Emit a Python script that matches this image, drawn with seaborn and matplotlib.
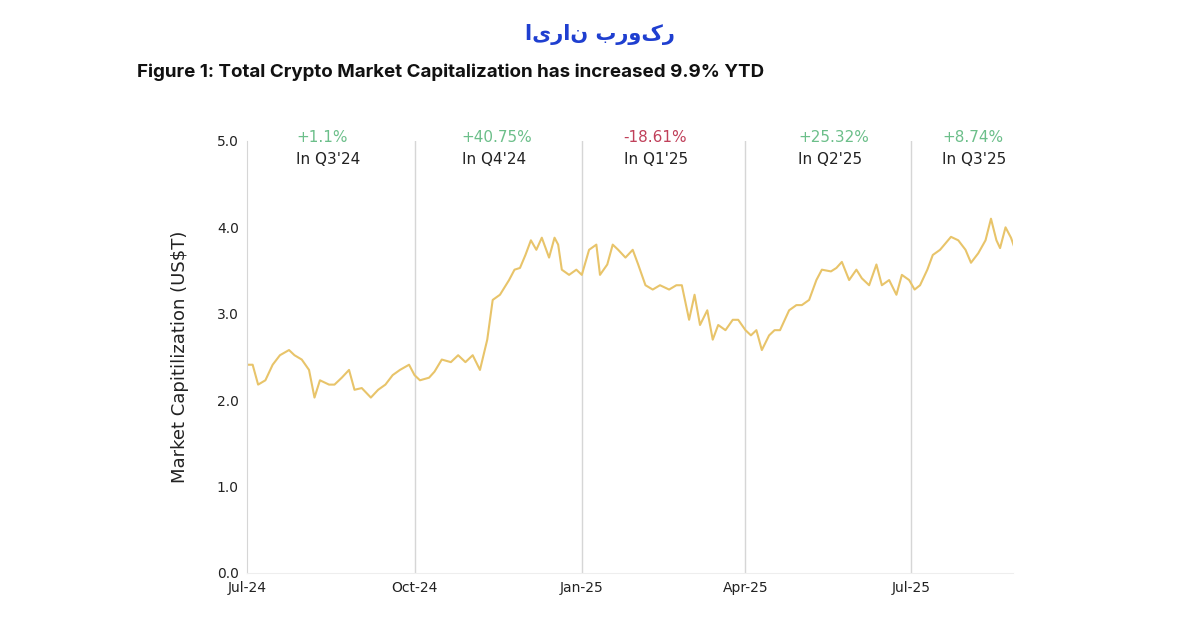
import numpy as np
import pandas as pd
import matplotlib
matplotlib.use("Agg")
import matplotlib.pyplot as plt
import seaborn as sns

start_date = "2024-07-01"
day_offsets = [0,3,6,10,14,18,23,26,30,34,37,40,45,48,52,56,59,63,68,72,76,80,84,89,92,95,100,103,107,112,
               116,120,124,128,132,135,139,144,147,150,153,156,159,162,166,169,171,173,177,181,184,188,192,194,198,
               201,204,208,212,215,219,223,227,232,236,239,243,246,249,253,256,259,263,267,270,274,277,280,283,287,
               290,293,298,302,305,309,313,316,321,324,327,331,335,338,342,346,349,353,357,360,364,367,370,374,377,
               381,387,391,395,398,402,406,409,412,414,417,420,422]
market_cap = [2.41,2.41,2.18,2.23,2.41,2.52,2.58,2.52,2.47,2.35,2.03,2.23,2.18,2.18,2.26,2.35,2.12,2.14,2.03,2.12,
              2.18,2.29,2.35,2.41,2.29,2.23,2.26,2.33,2.47,2.44,2.52,2.44,2.52,2.35,2.70,3.16,3.22,3.39,3.51,3.53,
              3.68,3.85,3.74,3.88,3.65,3.88,3.80,3.51,3.45,3.51,3.45,3.74,3.80,3.45,3.57,3.80,3.74,3.65,3.74,3.57,
              3.33,3.28,3.33,3.28,3.33,3.33,2.93,3.22,2.87,3.04,2.70,2.87,2.81,2.93,2.93,2.81,2.75,2.81,2.58,2.75,
              2.81,2.81,3.04,3.10,3.10,3.16,3.39,3.51,3.49,3.53,3.60,3.39,3.51,3.41,3.33,3.57,3.33,3.39,3.22,3.45,
              3.39,3.28,3.33,3.51,3.68,3.74,3.89,3.85,3.74,3.59,3.70,3.85,4.10,3.85,3.76,4.00,3.88,3.76]
quarter_ticks = ["2024-07-01","2024-10-01","2025-01-01","2025-04-01","2025-07-01"]
quarter_tick_labels = ["Jul-24","Oct-24","Jan-25","Apr-25","Jul-25"]
quarter_changes = ["+1.1%","+40.75%","-18.61%","+25.32%","+8.74%"]
quarter_names = ["In Q3'24","In Q4'24","In Q1'25","In Q2'25","In Q3'25"]
quarter_label_dates = ["2024-07-28","2024-10-27","2025-01-24","2025-04-30","2025-07-18"]

df = pd.DataFrame({"date": pd.to_datetime(start_date) + pd.to_timedelta(day_offsets, unit="D"),
                   "cap": market_cap})

fig = plt.figure(figsize=(12, 6.28), dpi=100)
ax = fig.add_axes([0.206, 0.0876, 0.638, 0.688])
sns.lineplot(data=df, x="date", y="cap", ax=ax, color="#e8c46a", linewidth=1.5)

ax.set_xlim(pd.Timestamp("2024-07-01"), pd.Timestamp("2025-08-26"))
ax.set_ylim(0, 5)
ax.set_yticks([0,1,2,3,4,5])
ax.set_yticklabels(["0.0","1.0","2.0","3.0","4.0","5.0"])
ticks = pd.to_datetime(quarter_ticks)
ax.set_xticks(ticks)
ax.set_xticklabels(quarter_tick_labels)
for t in ticks[1:]:
    ax.axvline(t, color="#d6d6d6", linewidth=1, zorder=0)
for s in ["top", "right"]:
    ax.spines[s].set_visible(False)
ax.spines["left"].set_color("#d6d6d6")
ax.spines["bottom"].set_color("#eeeeee")
ax.tick_params(axis="both", length=0, labelsize=10, colors="#222222", pad=6)
ax.set_xlabel("")
ax.set_ylabel("Market Capitilization (US$T)", fontsize=13, color="#222222", labelpad=20)

for d, ch, nm in zip(quarter_label_dates, quarter_changes, quarter_names):
    col = "#c0405a" if ch.startswith("-") else "#6cbf8a"
    x = pd.Timestamp(d)
    ax.text(x, 1.007, ch, transform=ax.get_xaxis_transform(), ha="left", va="center",
            fontsize=11, color=col)
    ax.text(x, 0.956, nm, transform=ax.get_xaxis_transform(), ha="left", va="center",
            fontsize=11, color="#222222")

fig.text(0.114, 0.885, "Figure 1: Total Crypto Market Capitalization has increased 9.9% YTD",
         fontsize=13.5, fontweight="bold", family="Inter", color="#111111", va="center")
fig.text(0.5, 0.945, "ایران بروکر", fontsize=15, fontweight="bold", color="#1f3fd0",
         ha="center", va="center", family="DejaVu Sans")

fig.savefig("out.png", dpi=100, facecolor="white")
